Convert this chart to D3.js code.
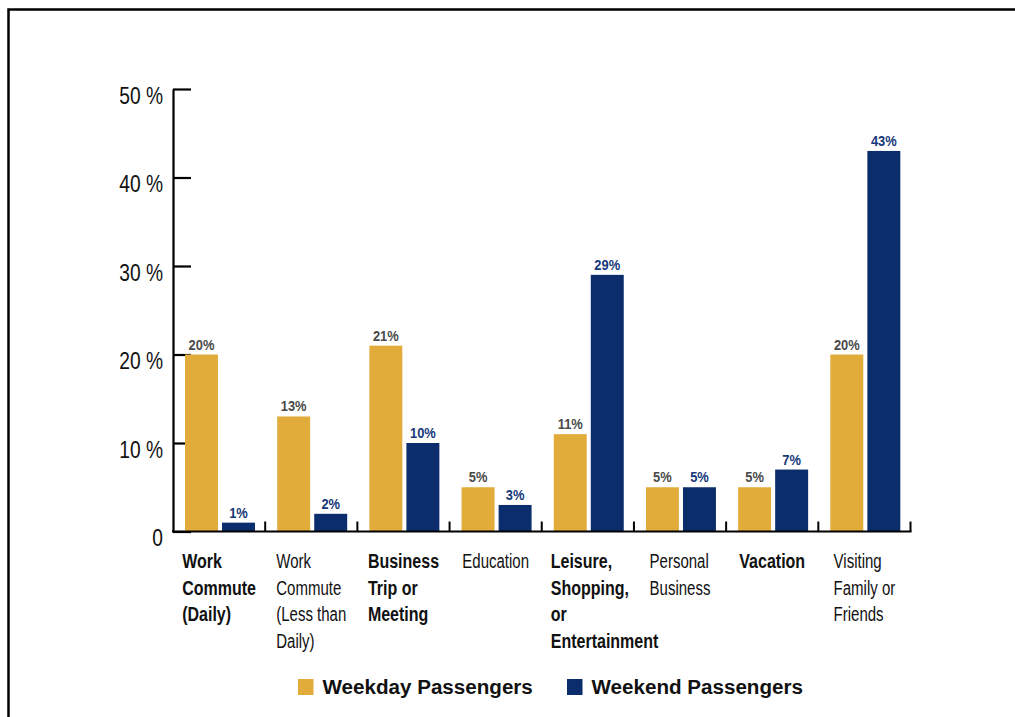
<!DOCTYPE html>
<html>
<head>
<meta charset="utf-8">
<script src="https://cdn.jsdelivr.net/npm/d3@7"></script>
<style>
  html, body { margin: 0; padding: 0; background: #fff; }
  svg { display: block; }
</style>
</head>
<body>
<svg id="chart" width="1015" height="717"></svg>
<script>
const categories = [
  ["Work", "Commute", "(Daily)"],
  ["Work", "Commute", "(Less than", "Daily)"],
  ["Business", "Trip or", "Meeting"],
  ["Education"],
  ["Leisure,", "Shopping,", "or", "Entertainment"],
  ["Personal", "Business"],
  ["Vacation"],
  ["Visiting", "Family or", "Friends"]
];
const boldCategory = [true, false, true, false, true, false, true, false];
const seriesNames = ["Weekday Passengers", "Weekend Passengers"];
const weekday = [20, 13, 21, 5, 11, 5, 5, 20];
const weekend = [1, 2, 10, 3, 29, 5, 7, 43];
const yTicks = [0, 10, 20, 30, 40, 50];

const colors = ["#E1AC3A", "#0B2D6C"];
const labelColors = ["#4a4a4a", "#17387a"];
const FONT = "'Liberation Sans', Arial, sans-serif";

// horizontally condense text to mimic a condensed typeface
function condense(sel, factor) {
  sel.each(function () {
    const L = this.getComputedTextLength();
    d3.select(this).attr("textLength", L * factor).attr("lengthAdjust", "spacingAndGlyphs");
  });
}

const svg = d3.select("#chart");

// frame
svg.append("path")
  .attr("d", "M8.5,717 V9.5 H1015")
  .attr("fill", "none").attr("stroke", "#000").attr("stroke-width", 2.5);

const plotL = 173, plotR = 910.5, plotT = 89, plotB = 531.5;
const keys = categories.map((c, i) => i);

const x = d3.scaleBand().domain(keys).range([plotL, plotR]).padding(0);
const xs = d3.scaleBand().domain([0, 1]).range([12, 82]).paddingInner(0.11).paddingOuter(0);
const y = d3.scaleLinear().domain([0, 50]).range([plotB, plotT]);

// y axis
const yAxis = svg.append("g")
  .attr("transform", `translate(${plotL},0)`)
  .call(d3.axisLeft(y).tickValues(yTicks).tickSize(-18).tickSizeOuter(0)
    .tickPadding(10)
    .tickFormat(d => d === 0 ? "0" : d + " %"));
yAxis.select(".domain").attr("stroke", "#000").attr("stroke-width", 2.2);
yAxis.selectAll(".tick line").attr("stroke", "#000").attr("stroke-width", 2.2);
yAxis.selectAll(".tick text")
  .attr("font-family", FONT).attr("font-size", 24).attr("fill", "#111")
  .attr("dy", "0.6em").attr("x", -10);
condense(yAxis.selectAll(".tick text"), 0.8);

// bars
const data = keys.map(i => ({ i, vals: [weekday[i], weekend[i]] }));
const groups = svg.selectAll("g.cat").data(data).join("g")
  .attr("class", "cat")
  .attr("transform", d => `translate(${x(d.i)},0)`);

groups.selectAll("rect").data(d => d.vals.map((v, s) => ({ v, s }))).join("rect")
  .attr("x", d => xs(d.s))
  .attr("width", xs.bandwidth())
  .attr("y", d => y(d.v))
  .attr("height", d => y(0) - y(d.v))
  .attr("fill", d => colors[d.s]);

const vals = groups.selectAll("text.val").data(d => d.vals.map((v, s) => ({ v, s }))).join("text")
  .attr("class", "val")
  .attr("x", d => xs(d.s) + xs.bandwidth() / 2)
  .attr("y", d => y(d.v) - 5)
  .attr("text-anchor", "middle")
  .attr("font-family", FONT).attr("font-weight", "bold").attr("font-size", 14)
  .attr("fill", d => labelColors[d.s])
  .text(d => d.v + "%");
condense(vals, 0.92);

// x axis
svg.append("line")
  .attr("x1", plotL - 1).attr("x2", plotR + 1)
  .attr("y1", plotB).attr("y2", plotB)
  .attr("stroke", "#000").attr("stroke-width", 2.2);
svg.selectAll("line.xtick").data(keys).join("line")
  .attr("class", "xtick")
  .attr("x1", d => x(d) + x.bandwidth()).attr("x2", d => x(d) + x.bandwidth())
  .attr("y1", plotB).attr("y2", plotB - 10)
  .attr("stroke", "#000").attr("stroke-width", 2);

// category labels
const lineH = 26.5;
const catText = svg.selectAll("text.catlabel").data(keys).join("text")
  .attr("class", "catlabel")
  .attr("font-family", FONT).attr("font-size", 20)
  .attr("font-weight", d => boldCategory[d] ? "bold" : "normal")
  .attr("fill", "#111")
  .attr("y", 568);
catText.each(function (d) {
  const t = d3.select(this);
  categories[d].forEach((ln, k) => {
    t.append("tspan").attr("x", 0).attr("dy", k === 0 ? 0 : lineH).text(ln);
  });
  const factor = boldCategory[d] ? 0.8 : 0.75;
  let w = 0;
  t.selectAll("tspan").each(function () {
    const L = this.getComputedTextLength() * factor;
    w = Math.max(w, L);
    d3.select(this).attr("textLength", L).attr("lengthAdjust", "spacingAndGlyphs");
  });
  const cx = x(d) + x.bandwidth() / 2;
  const lx = Math.max(cx - w / 2, x(d) + 9);
  t.selectAll("tspan").attr("x", lx);
});

// legend
const legendItems = [
  { s: 0, x: 298 },
  { s: 1, x: 567 }
];
const lg = svg.selectAll("g.leg").data(legendItems).join("g")
  .attr("class", "leg")
  .attr("transform", d => `translate(${d.x},679)`);
lg.append("rect").attr("width", 15.5).attr("height", 16).attr("fill", d => colors[d.s]);
const lgText = lg.append("text")
  .attr("x", 24.5).attr("y", 15)
  .attr("font-family", FONT).attr("font-weight", "bold").attr("font-size", 20)
  .attr("fill", "#111")
  .text(d => seriesNames[d.s]);
condense(lgText, 1.03);
</script>
</body>
</html>
